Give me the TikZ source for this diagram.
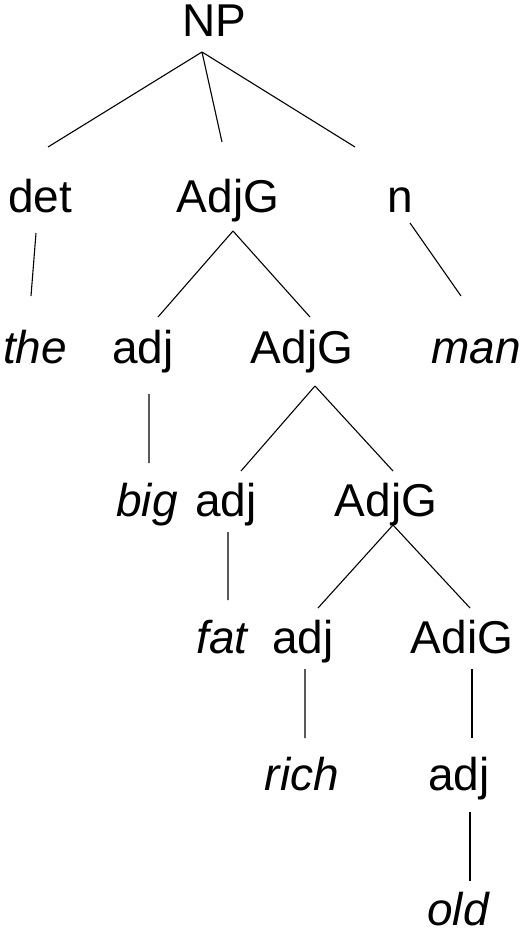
\documentclass[tikz,border=0pt]{standalone}
\usepackage{fontspec}
\setmainfont{Liberation Sans}
\usetikzlibrary{positioning}
\tikzset{
  cat/.style={anchor=base,inner sep=0pt,font=\fontsize{46}{55}\selectfont},
  wrd/.style={cat,font=\fontsize{46}{55}\selectfont\itshape},
  br/.style={draw=black,line width=1.1pt},
}
\begin{document}
\begin{tikzpicture}[x=1pt,y=-1pt]
\useasboundingbox (0,0) rectangle (529,934);
% labels, placed on their baselines
\node[cat] (np) at (214,37) {NP};
\node[cat] (det) at (40,212) {det}; \node[cat] (adjgA) at (228,212) {AdjG};
\node[cat] (n) at (400,212) {n};
\node[wrd] (the) at (35,363) {the}; \node[cat] (adjA) at (143,363) {adj};
\node[cat] (adjgB) at (302,363) {AdjG}; \node[wrd] (man) at (476,363) {man};
\node[wrd] (big) at (147,516) {big}; \node[cat] (adjB) at (226,516) {adj};
\node[cat] (adjgC) at (386,516) {AdjG};
\node[wrd] (fat) at (222,653) {fat}; \node[cat] (adjC) at (303,653) {adj};
\node[cat] (adigD) at (462,653) {AdiG};
\node[wrd] (rich) at (302,790) {rich}; \node[cat] (adjD) at (459,790) {adj};
\node[wrd] (old) at (458,925) {old};
% where the branches meet the labels
\coordinate (np-b) at (202,52);
\coordinate (det-t) at (48,147); \coordinate (det-b) at (36,233);
\coordinate (adjgA-t) at (222,142); \coordinate (adjgA-b) at (233,231);
\coordinate (n-t) at (355,147); \coordinate (n-b) at (410,223);
\coordinate (the-t) at (31,296);
\coordinate (adjA-t) at (158,317); \coordinate (adjA-b) at (149,394);
\coordinate (adjgB-t) at (310,317); \coordinate (adjgB-b) at (315,386);
\coordinate (man-t) at (461,296);
\coordinate (big-t) at (149,463);
\coordinate (adjB-t) at (241,471); \coordinate (adjB-b) at (228,532);
\coordinate (adjgC-t) at (393,471); \coordinate (adjgC-b) at (393,525);
\coordinate (fat-t) at (228,600);
\coordinate (adjC-t) at (318,608); \coordinate (adjC-b) at (305,669);
\coordinate (adigD-t) at (470,608); \coordinate (adigD-b) at (472,669);
\coordinate (rich-t) at (305,738);
\coordinate (adjD-t) at (472,738); \coordinate (adjD-b) at (470,812);
\coordinate (old-t) at (470,881);
\draw[br] (np-b)--(det-t) (np-b)--(adjgA-t) (np-b)--(n-t);
\draw[br] (det-b)--(the-t) (n-b)--(man-t);
\draw[br] (adjgA-b)--(adjA-t) (adjgA-b)--(adjgB-t) (adjA-b)--(big-t);
\draw[br] (adjgB-b)--(adjB-t) (adjgB-b)--(adjgC-t) (adjB-b)--(fat-t);
\draw[br] (adjgC-b)--(adjC-t) (adjgC-b)--(adigD-t) (adjC-b)--(rich-t);
\draw[br] (adigD-b)--(adjD-t) (adjD-b)--(old-t);
\end{tikzpicture}
\end{document}
